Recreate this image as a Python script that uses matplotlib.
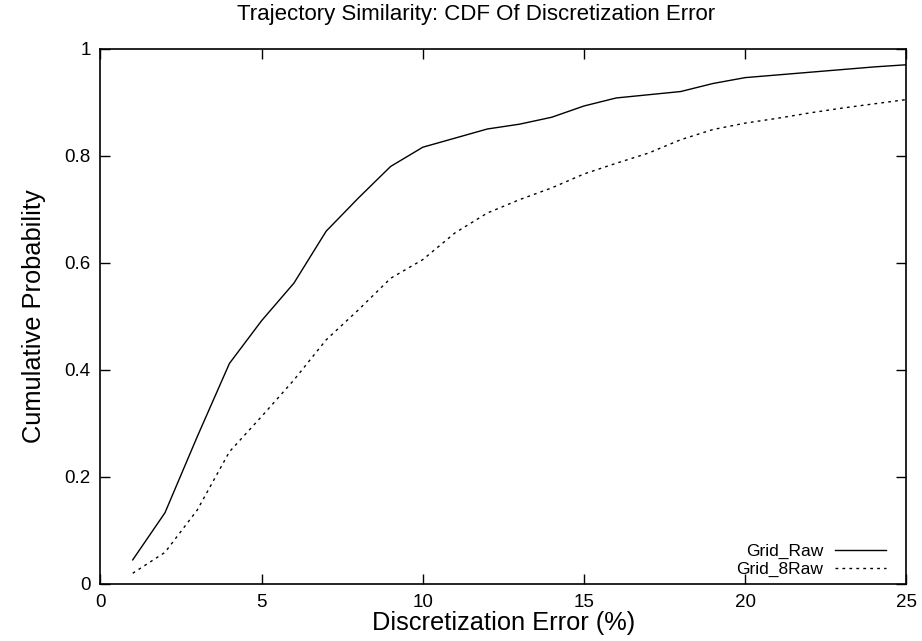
import numpy as np
import matplotlib.pyplot as plt

plt.rcParams['font.family'] = ['Liberation Sans', 'DejaVu Sans']

# discretization error (%) and CDF values
err = [1, 2, 3, 4, 5, 6, 7, 8, 9, 10, 11, 12, 13, 14, 15, 16, 17, 18, 19, 20, 21, 22, 23, 24, 25]
grid_raw = [0.045, 0.133, 0.275, 0.412, 0.492, 0.562, 0.659, 0.721, 0.780, 0.816, 0.833, 0.850,
            0.859, 0.872, 0.893, 0.908, 0.914, 0.920, 0.935, 0.946, 0.951, 0.956, 0.961, 0.966, 0.970]
grid_8raw = [0.020, 0.059, 0.138, 0.247, 0.313, 0.381, 0.456, 0.512, 0.571, 0.606, 0.656, 0.693,
             0.718, 0.740, 0.766, 0.786, 0.805, 0.830, 0.849, 0.861, 0.870, 0.880, 0.889, 0.897, 0.905]

xticks = [0, 5, 10, 15, 20, 25]
yticks = [0, 0.2, 0.4, 0.6, 0.8, 1]
ytick_labels = ['0', '0.2', '0.4', '0.6', '0.8', '1']

fig = plt.figure(figsize=(9.22, 6.41), dpi=100)
ax = fig.add_axes([0.109, 0.089, 0.874, 0.835])

ax.plot(err, grid_raw, color='black', lw=1.0, label='Grid_Raw')
ax.plot(err, grid_8raw, color='black', lw=1.0, dashes=(2, 3), label='Grid_8Raw')

ax.set_xlim(0, 25)
ax.set_ylim(0, 1)
ax.set_xticks(xticks)
ax.set_yticks(yticks)
ax.set_yticklabels(ytick_labels)
ax.tick_params(direction='in', top=True, right=True, length=7, width=1, labelsize=13.5, pad=7)
for s in ax.spines.values():
    s.set_linewidth(1.2)

ax.set_xlabel('Discretization Error (%)', fontsize=18.3, labelpad=0)
ax.set_ylabel('Cumulative Probability', fontsize=18.3, labelpad=13)
fig.text(0.516, 0.978, 'Trajectory Similarity: CDF Of Discretization Error',
         fontsize=16, ha='center', va='center')

leg = ax.legend(loc='lower right', bbox_to_anchor=(0.983, 0.0), frameon=False,
                markerfirst=False, fontsize=12.5, handlelength=2.9, handletextpad=0.7,
                labelspacing=0.15, borderaxespad=0.0)

fig.savefig('out.png', dpi=100)
